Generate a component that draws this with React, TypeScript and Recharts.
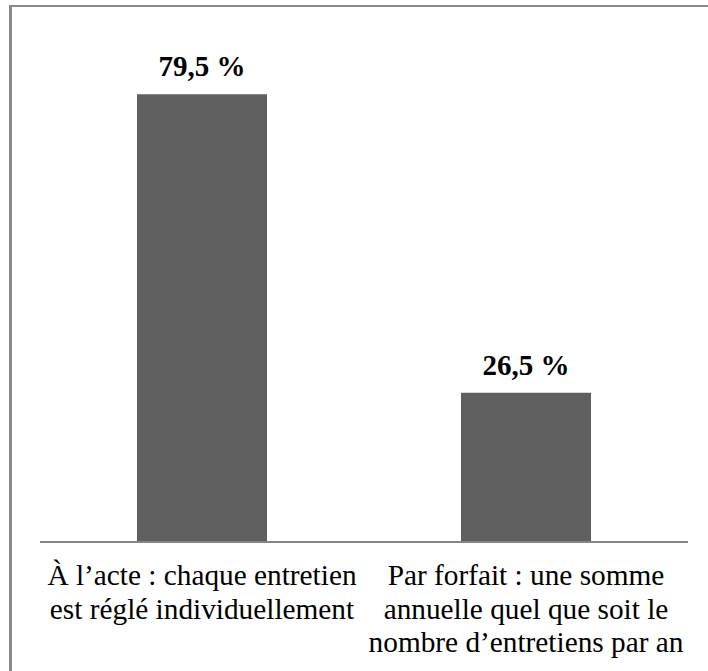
import React from 'react';
import { BarChart, Bar, XAxis, YAxis, LabelList } from 'recharts';

const categories = [
  'À l’acte : chaque entretien\nest réglé individuellement',
  'Par forfait : une somme\nannuelle quel que soit le\nnombre d’entretiens par an',
];
const shares = [79.5, 26.5];

const chartData = categories.map((name, i) => ({ name, value: shares[i] }));

const serif = '"Liberation Serif", "Times New Roman", serif';

const formatPct = (v: number) => v.toFixed(1).replace('.', ',') + ' %';

const CategoryTick = (props: any) => {
  const { x, y, payload } = props;
  const lines = String(payload.value).split('\n');
  return (
    <text x={x} y={y} textAnchor="middle" fontFamily={serif} fontSize={29.3} fill="#000">
      {lines.map((line, i) => (
        <tspan key={i} x={x} dy={i === 0 ? 35 : 33.5}>
          {line}
        </tspan>
      ))}
    </text>
  );
};

export default function App() {
  return (
    <div>
      <div
        style={{
          position: 'absolute',
          left: 9,
          top: 5,
          width: 699,
          height: 666,
          boxSizing: 'border-box',
          borderLeft: '3px solid #8a8a8a',
          borderTop: '2px solid #8a8a8a',
        }}
      />
      <div style={{ position: 'absolute', left: 0, top: 0 }}>
        <BarChart
          width={708}
          height={671}
          data={chartData}
          margin={{ top: 35, right: 20, bottom: 9, left: 40 }}
          barCategoryGap={97}
        >
          <YAxis hide domain={[0, 90]} />
          <XAxis
            dataKey="name"
            height={120}
            tickLine={false}
            axisLine={{ stroke: '#868686', strokeWidth: 2 }}
            tick={<CategoryTick />}
            interval={0}
          />
          <Bar dataKey="value" fill="#5f5f5f" isAnimationActive={false}>
            <LabelList
              dataKey="value"
              position="top"
              offset={18}
              formatter={(v: any) => formatPct(Number(v))}
              style={{ fontFamily: serif, fontSize: 29, fontWeight: 'bold', fill: '#000' }}
            />
          </Bar>
        </BarChart>
      </div>
    </div>
  );
}
